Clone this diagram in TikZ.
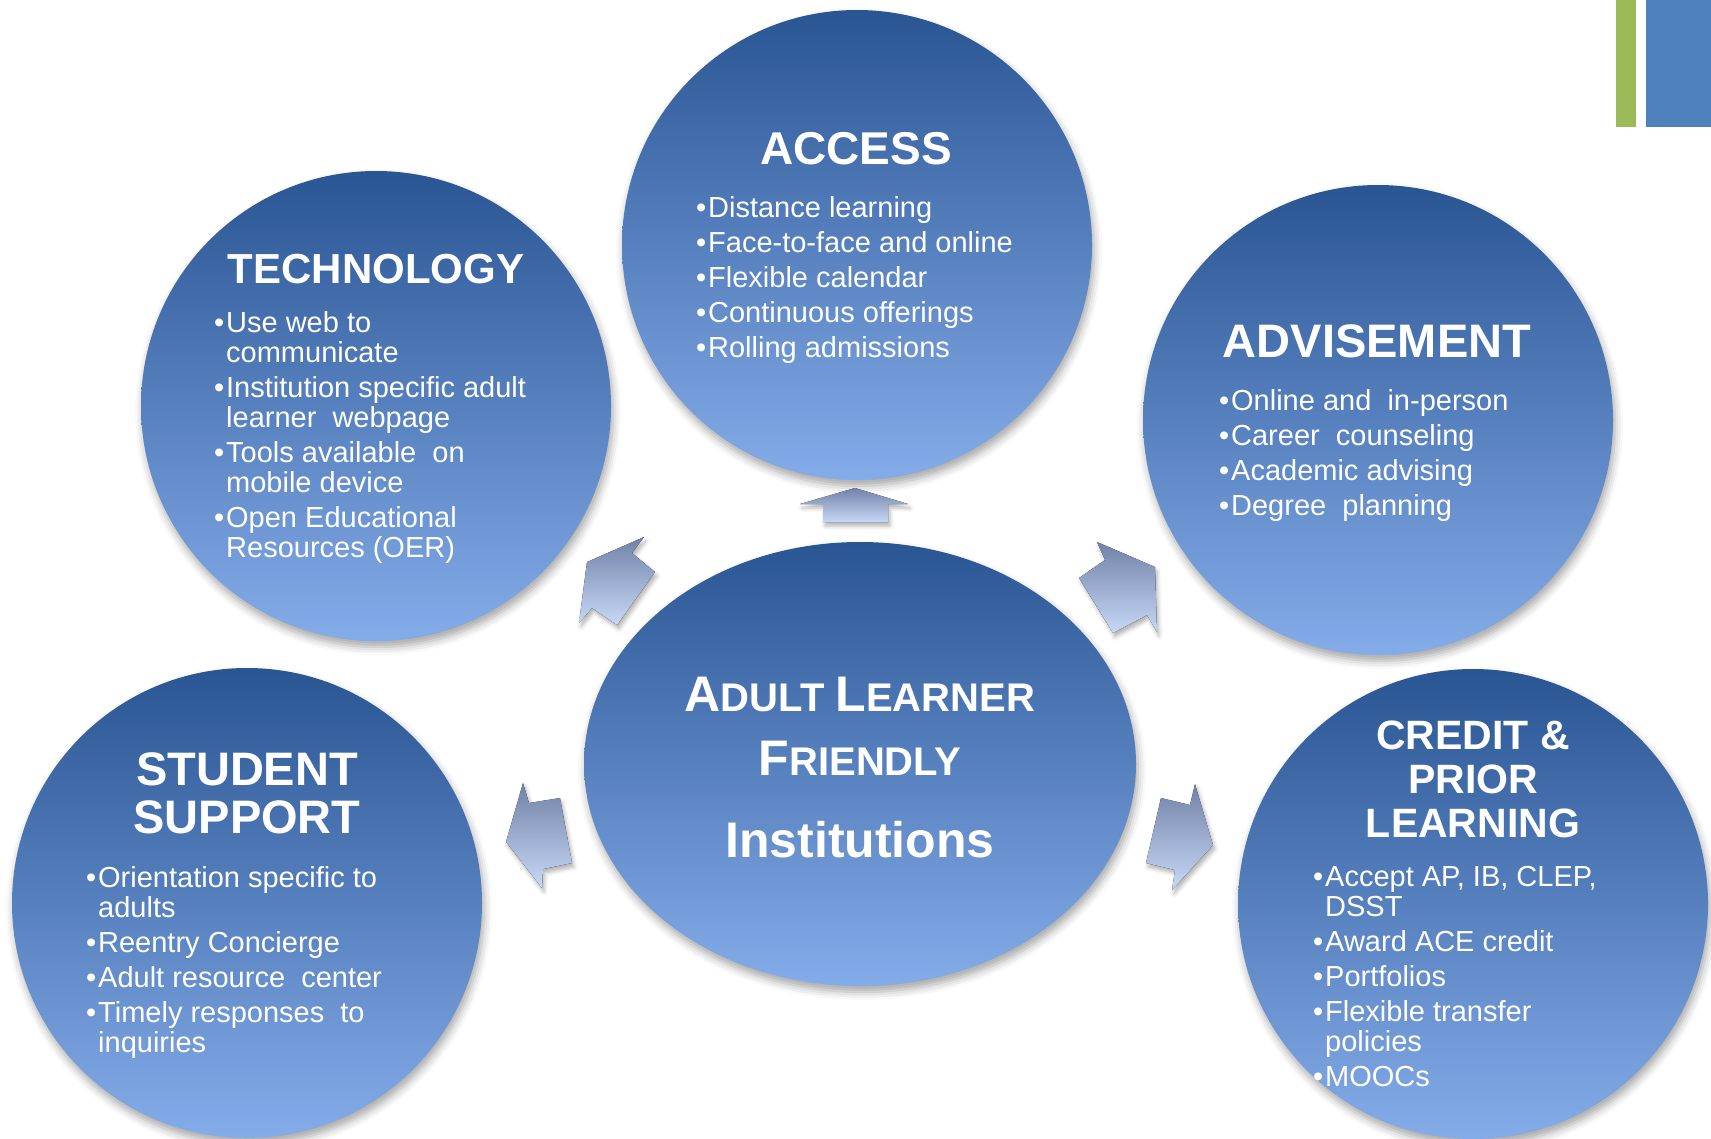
\documentclass[tikz,border=0pt]{standalone}
\usepackage{fontspec}
\setmainfont{Liberation Sans}
\usetikzlibrary{shapes.geometric, shadows.blur}

\definecolor{disctop}{HTML}{2A5593}
\definecolor{discbot}{HTML}{84ACE9}
\definecolor{arrtop}{HTML}{7282A8}
\definecolor{arrbot}{HTML}{C8D8F6}
\definecolor{bargreen}{HTML}{9BBB59}
\definecolor{barblue}{HTML}{4F81BD}

\newcommand{\itm}{\llap{\textbullet\hspace{2pt}}}
\newcommand{\blist}[1]{\begin{tabular}[t]{@{}l@{}}#1\end{tabular}}
\newcommand{\ctext}[1]{\begin{tabular}[t]{@{}c@{}}#1\end{tabular}}
\newcommand{\scword}[2]{{\fontsize{50}{64}\selectfont #1}{\fontsize{40}{64}\selectfont #2}}

\begin{document}
\begin{tikzpicture}[
    x=1pt, y=-1pt,
    disc/.style={circle, minimum size=470pt, inner sep=0pt, top color=disctop, bottom color=discbot,
      blur shadow={shadow xshift=2pt, shadow yshift=-6pt, shadow blur radius=8pt, shadow opacity=35}},
    hub/.style={ellipse, minimum width=552pt, minimum height=444pt, inner sep=0pt, top color=disctop, bottom color=discbot,
      blur shadow={shadow xshift=2pt, shadow yshift=-6pt, shadow blur radius=8pt, shadow opacity=35}},
    heading/.style={text=white, font=\bfseries\fontsize{46}{48}\selectfont, anchor=base, inner sep=0pt},
    items/.style={text=white, font=\fontsize{29}{30}\selectfont, anchor=base west, inner sep=0pt},
    blockarrow/.style={top color=arrtop, bottom color=arrbot,
      blur shadow={shadow xshift=2pt, shadow yshift=-4pt, shadow blur radius=4pt, shadow opacity=30}}
]
\useasboundingbox (0,0) rectangle (1711,1138);

% Corner bars
\fill[bargreen] (1616,0) rectangle (1636,127);
\fill[barblue] (1646,0) rectangle (1711,127);

% Discs
\node (access) [disc] at (857,245) {};
\node (tech) [disc] at (376,406) {};
\node (advise) [disc] at (1378,420) {};
\node (support) [disc] at (247,903) {};
\node (credit) [disc] at (1473,904) {};
\node (center) [hub] at (860,764) {};

% Block arrows
\fill[blockarrow] (855,488) -- (908,504) -- (888,504) -- (888,522) -- (823,522) -- (823,504) -- (800,504) -- cycle;
\fill[blockarrow] (587,562) -- (644,537) -- (632,553) -- (655,572) -- (617,625) -- (592,608) -- (579,623) -- cycle;
\fill[blockarrow] (1097,542) -- (1105,560) -- (1079,578) -- (1113,633) -- (1147,615) -- (1157,632) -- (1155,567) -- cycle;
\fill[blockarrow] (523,783) -- (529,803) -- (560,798) -- (572,863) -- (543,869) -- (542,888) -- (506,842) -- cycle;
\fill[blockarrow] (1195,784) -- (1190,805) -- (1161,798) -- (1146,863) -- (1175,870) -- (1172,890) -- (1213,845) -- cycle;

% Headings
\node (accesstitle) [heading] at (856,164) {ACCESS};
\node (techtitle) [heading, font=\bfseries\fontsize{42}{44}\selectfont] at (376,283) {TECHNOLOGY};
\node (advisetitle) [heading, font=\bfseries\fontsize{47}{48}\selectfont] at (1377,357) {ADVISEMENT};
\node (supporttitle) [heading, font=\bfseries\fontsize{47}{48}\selectfont] at (247,785) {\ctext{STUDENT\\SUPPORT}};
\node (credittitle) [heading, font=\bfseries\fontsize{41}{44}\selectfont] at (1473,749) {\ctext{CREDIT \&\\PRIOR\\LEARNING}};
\node (centertitle) [heading, font=\bfseries\fontsize{40}{64}\selectfont] at (860,711) {\ctext{\scword{A}{DULT} \scword{L}{EARNER}\\\scword{F}{RIENDLY}}};
\node (centersub) [heading, font=\bfseries\fontsize{50}{52}\selectfont] at (860,857) {Institutions};

% Bullet lists
\node (accesslist) [items] at (708,217) {\blist{%
  \itm Distance learning\\[5pt]
  \itm Face-to-face and online\\[5pt]
  \itm Flexible calendar\\[5pt]
  \itm Continuous offerings\\[5pt]
  \itm Rolling admissions}};
\node (techlist) [items] at (226,332) {\blist{%
  \itm Use web to\\ communicate\\[5pt]
  \itm Institution specific adult\\ learner\ \ webpage\\[5pt]
  \itm Tools available\ \ on\\ mobile device\\[5pt]
  \itm Open Educational\\ Resources (OER)}};
\node (adviselist) [items] at (1231,410) {\blist{%
  \itm Online and\ \ in-person\\[5pt]
  \itm Career\ \ counseling\\[5pt]
  \itm Academic advising\\[5pt]
  \itm Degree\ \ planning}};
\node (supportlist) [items] at (98,887) {\blist{%
  \itm Orientation specific to\\ adults\\[5pt]
  \itm Reentry Concierge\\[5pt]
  \itm Adult resource\ \ center\\[5pt]
  \itm Timely responses\ \ to\\ inquiries}};
\node (creditlist) [items] at (1325,886) {\blist{%
  \itm Accept AP, IB, CLEP,\\ DSST\\[5pt]
  \itm Award ACE credit\\[5pt]
  \itm Portfolios\\[5pt]
  \itm Flexible transfer\\ policies\\[5pt]
  \itm MOOCs}};
\end{tikzpicture}
\end{document}
